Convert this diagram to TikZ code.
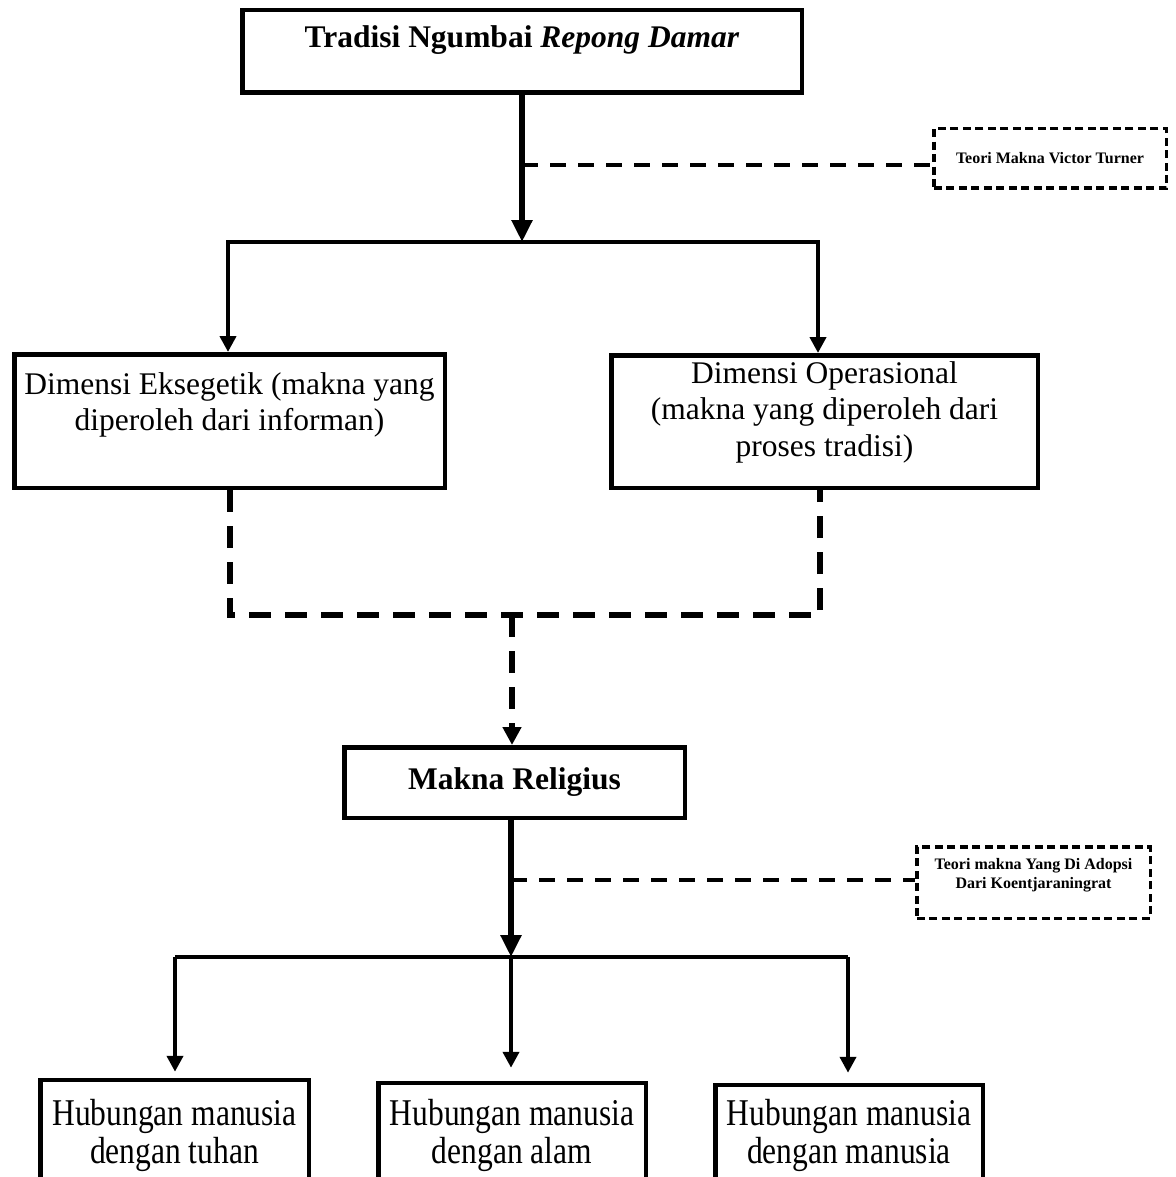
\documentclass[tikz,border=0pt]{standalone}
\usepackage{fontspec}
\usepackage{graphicx}
\setmainfont{Liberation Serif}
\usetikzlibrary{arrows.meta}
\begin{document}
\begin{tikzpicture}[x=1pt,y=-1pt,
  tri/.tip={Triangle[width=16pt,length=16pt]},
  frame/.style={draw, line width=4.5pt, inner sep=0pt},
  dframe/.style={draw, line width=3.5pt, dash pattern=on 8pt off 4.5pt, inner sep=0pt},
  big/.style={font=\fontsize{31.5}{36.5}\selectfont, align=center, inner sep=0pt},
  bigb/.style={font=\bfseries\fontsize{31.5}{36.5}\selectfont, align=center, inner sep=0pt},
  small/.style={font=\bfseries\fontsize{16}{19.5}\selectfont, align=center, inner sep=0pt},
  stem/.style={line width=6.5pt, -{Triangle[width=20pt,length=22pt]}},
  conn/.style={line width=4.5pt, line join=miter},
  dashline/.style={line width=5.5pt, dash pattern=on 22pt off 14pt},
  thindash/.style={line width=3.5pt, dash pattern=on 16pt off 12pt}]
\useasboundingbox (0,0) rectangle (1175,1177);
\clip (0,0) rectangle (1175,1177);

% top box
\node[frame, minimum width=559.5pt, minimum height=82.5pt] (top) at (522,51.5) {};
\node[bigb] (toptxt) at (522,40) {Tradisi Ngumbai \textit{Repong Damar}};

% Turner box
\node[dframe, minimum width=232.5pt, minimum height=59.5pt] (turner) at (1050,158.5) {};
\node[small] (turnertxt) at (1050,158.5) {Teori Makna Victor Turner};

% second level boxes
\node[frame, minimum width=430.5pt, minimum height=133.5pt] (L) at (229.5,421) {};
\node[big] (Ltxt) at (229.5,405) {Dimensi Eksegetik (makna yang\\diperoleh dari informan)};
\node[frame, minimum width=426.5pt, minimum height=132.5pt] (R) at (824.5,421.5) {};
\node[big] (Rtxt) at (824.5,412) {Dimensi Operasional\\(makna yang diperoleh dari\\proses tradisi)};

% Makna Religius
\node[frame, minimum width=340.5pt, minimum height=70.5pt] (M) at (514.5,782.5) {};
\node[bigb] (Mtxt) at (514.5,782.5) {Makna Religius};

% Koentjaraningrat box
\node[dframe, minimum width=233.5pt, minimum height=71.5pt] (koen) at (1033.5,882.5) {};
\node[small] (koentxt) at (1033.5,875) {Teori makna Yang Di Adopsi\\Dari Koentjaraningrat};

% bottom boxes
\node[frame, minimum width=268.5pt, minimum height=114pt] (B1) at (174.5,1137) {};
\node[inner sep=0pt] (B1txt) at (174.5,1137) {\scalebox{1}[1.2]{\fontsize{31.5}{31}\selectfont\setlength{\tabcolsep}{0pt}\begin{tabular}{c}Hubungan manusia\\dengan tuhan\end{tabular}}};
\node[frame, minimum width=267.5pt, minimum height=111pt] (B2) at (512,1138.5) {};
\node[inner sep=0pt] (B2txt) at (512,1137) {\scalebox{1}[1.2]{\fontsize{31.5}{31}\selectfont\setlength{\tabcolsep}{0pt}\begin{tabular}{c}Hubungan manusia\\dengan alam\end{tabular}}};
\node[frame, minimum width=267.5pt, minimum height=109pt] (B3) at (849,1139.5) {};
\node[inner sep=0pt] (B3txt) at (849,1137) {\scalebox{1}[1.2]{\fontsize{31.5}{31}\selectfont\setlength{\tabcolsep}{0pt}\begin{tabular}{c}Hubungan manusia\\dengan manusia\end{tabular}}};

% connectors top
\coordinate (j1) at (522,242);
\coordinate (jL) at (228,242);
\coordinate (jR) at (818,242);
\coordinate (br1) at (522,165);
\draw[stem] (top.south) -- (j1);
\draw[thindash] (br1) -- (br1 -| turner.west);
\draw[conn, tri-tri] (jL |- L.north) -- (jL) -- (jR) -- (jR |- R.north);

% dashed merge
\coordinate (dL) at (230,615);
\coordinate (dR) at (820,615);
\coordinate (dM) at (512,615);
\draw[dashline] (dL |- L.south) -- (dL) -- (dR) -- (dR |- R.south);
\draw[dashline, -{Triangle[width=18pt,length=18pt]}] (dM) -- (dM |- M.north);

% lower connectors
\coordinate (j2) at (511,957);
\coordinate (br2) at (511,880);
\coordinate (h1) at (175,957);
\coordinate (h3) at (848,957);
\draw[stem] (M.south -| j2) -- (j2);
\draw[thindash] (br2) -- (br2 -| koen.west);
\draw[conn] (h1) -- (h3);
\draw[conn, -tri, shorten >=6pt] (h1) -- (h1 |- B1.north);
\draw[conn, -tri, shorten >=13pt] (j2) -- (j2 |- B2.north);
\draw[conn, -tri, shorten >=10pt] (h3) -- (h3 |- B3.north);
\end{tikzpicture}
\end{document}
